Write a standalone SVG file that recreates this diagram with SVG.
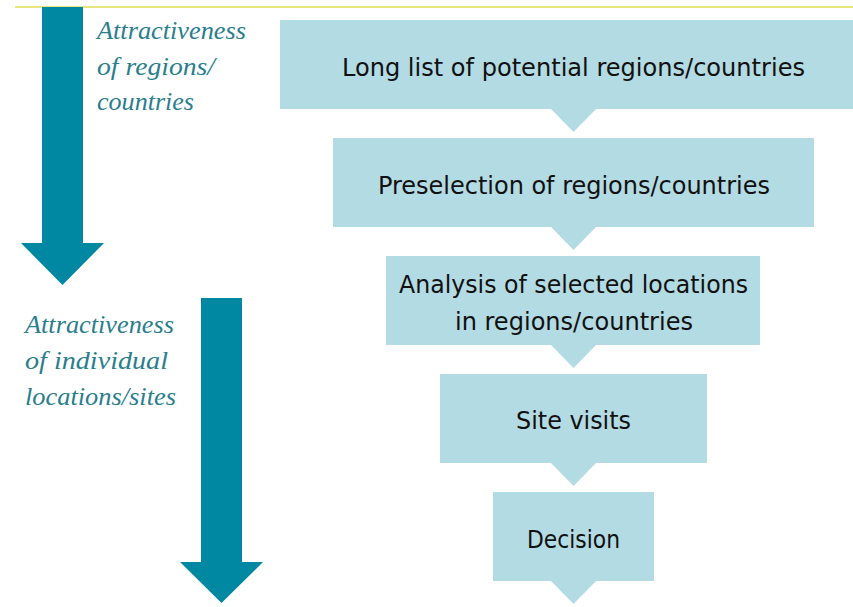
<svg xmlns="http://www.w3.org/2000/svg" width="853" height="607" viewBox="0 0 853 607">
<style>
.box{fill:#b3dbe3}
.lbl{font-family:"DejaVu Sans Condensed","DejaVu Sans",sans-serif;font-size:25px;fill:#111;text-anchor:start}
.it{font-family:"Liberation Serif","DejaVu Serif",serif;font-style:italic;font-size:26px;fill:#2a7e8d}
.arr{fill:#0088a2}
</style>
<rect width="853" height="607" fill="#fff"/>
<line x1="15" y1="7" x2="853" y2="7" stroke="#dedd55" stroke-width="1.5"/>
<g id="axis-regions">
<polygon class="arr" points="42,7 83,7 83,243 104,243 62.5,285 21,243 42,243"/>
<text class="it" x="97" y="39" textLength="149" lengthAdjust="spacingAndGlyphs">Attractiveness</text>
<text class="it" x="97" y="75" textLength="118" lengthAdjust="spacingAndGlyphs">of regions/</text>
<text class="it" x="97" y="110" textLength="97" lengthAdjust="spacingAndGlyphs">countries</text>
</g>
<g id="axis-sites">
<polygon class="arr" points="201,298 242,298 242,562 263,562 221.5,603 180,562 201,562"/>
<text class="it" x="25" y="333" textLength="149" lengthAdjust="spacingAndGlyphs">Attractiveness</text>
<text class="it" x="25" y="369" textLength="143" lengthAdjust="spacingAndGlyphs">of individual</text>
<text class="it" x="25" y="405" textLength="151" lengthAdjust="spacingAndGlyphs">locations/sites</text>
</g>
<g id="connectors">
<polygon class="box" points="551,109 596,109 573.5,132"/>
<polygon class="box" points="551,227 596,227 573.5,250"/>
<polygon class="box" points="551,345 596,345 573.5,368"/>
<polygon class="box" points="551,463 596,463 573.5,486"/>
<polygon class="box" points="551,581 596,581 573.5,604"/>
</g>
<g id="n1">
<rect class="box" x="280" y="20" width="573" height="89"/>
<text class="lbl" x="342" y="76" textLength="463" lengthAdjust="spacingAndGlyphs">Long list of potential regions/countries</text>
</g>
<g id="n2">
<rect class="box" x="333" y="138" width="481" height="89"/>
<text class="lbl" x="378" y="194" textLength="392" lengthAdjust="spacingAndGlyphs">Preselection of regions/countries</text>
</g>
<g id="n3">
<rect class="box" x="386" y="256" width="374" height="89"/>
<text class="lbl" x="399" y="293" textLength="349" lengthAdjust="spacingAndGlyphs">Analysis of selected locations</text>
<text class="lbl" x="455" y="330" textLength="238" lengthAdjust="spacingAndGlyphs">in regions/countries</text>
</g>
<g id="n4">
<rect class="box" x="440" y="374" width="267" height="89"/>
<text class="lbl" x="516" y="429" textLength="115" lengthAdjust="spacingAndGlyphs">Site visits</text>
</g>
<g id="n5">
<rect class="box" x="493" y="492" width="161" height="89"/>
<text class="lbl" x="527" y="548" textLength="93" lengthAdjust="spacingAndGlyphs">Decision</text>
</g>
</svg>
